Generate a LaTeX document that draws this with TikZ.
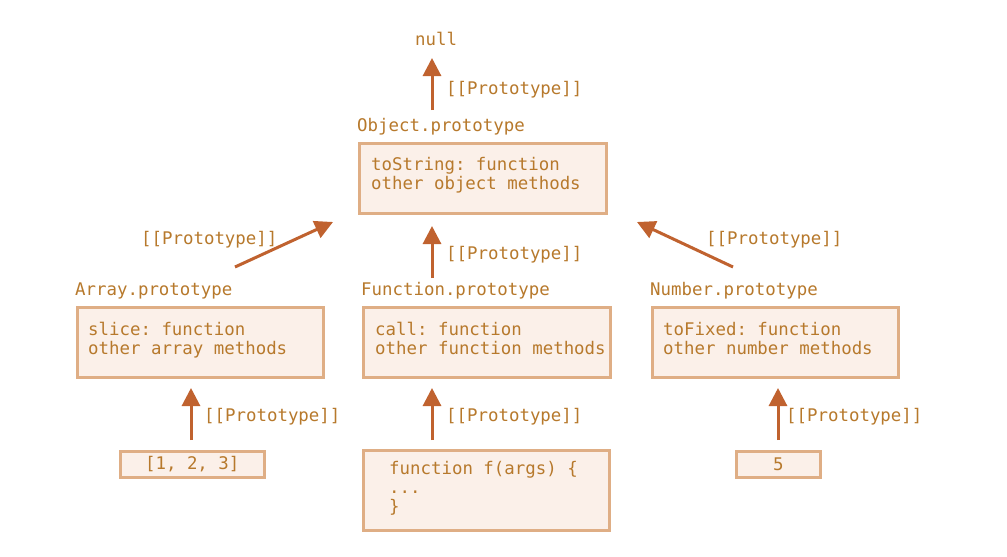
\documentclass[tikz,border=0pt]{standalone}
\usepackage{fontspec}
\setmonofont{DejaVu Sans Mono}
\usetikzlibrary{arrows.meta}
\definecolor{codetext}{HTML}{B7792C}
\definecolor{linkcol}{HTML}{C0622F}
\definecolor{cardfill}{HTML}{FBF0E9}
\definecolor{cardline}{HTML}{DFAE85}
\tikzset{
  every node/.style={font=\ttfamily\fontsize{17.4}{19}\selectfont, text=codetext, inner sep=0pt},
  card/.style={draw=cardline, fill=cardfill, line width=2.5pt, anchor=north west},
  % multi-line texts are placed by the baseline of their last line
  lbl/.style={anchor=base west, align=left},
  link/.style={draw=linkcol, line width=3pt, -{Triangle[length=18pt,width=18pt]}},
}
\begin{document}
\begin{tikzpicture}[x=1pt,y=-1pt]
  \path[use as bounding box, fill=white] (0,0) rectangle (1007,557);

  % top: null and Object.prototype
  \node[lbl] (null) at (415,45) {null};
  \node[lbl] (objlbl) at (357,131) {Object.prototype};
  \node[card, minimum width=247pt, minimum height=70pt] (objbox) at (358,142) {};
  \node[lbl] (objtxt) at (371,189) {toString: function\\other object methods};

  % middle row of prototypes
  \node[lbl] (arrlbl) at (75,295) {Array.prototype};
  \node[card, minimum width=246pt, minimum height=70pt] (arrbox) at (76,306) {};
  \node[lbl] (arrtxt) at (88,354) {slice: function\\other array methods};

  \node[lbl] (funlbl) at (361,295) {Function.prototype};
  \node[card, minimum width=247pt, minimum height=70pt] (funbox) at (362,306) {};
  \node[lbl] (funtxt) at (375,354) {call: function\\other function methods};

  \node[lbl] (numlbl) at (650,295) {Number.prototype};
  \node[card, minimum width=246pt, minimum height=70pt] (numbox) at (651,306) {};
  \node[lbl] (numtxt) at (663,354) {toFixed: function\\other number methods};

  % bottom row of values
  \node[card, minimum width=144pt, minimum height=26pt] (arrval) at (119,450) {};
  \node (arrvaltxt) at (arrval.center) {[1, 2, 3]};
  \node[card, minimum width=246pt, minimum height=80pt] (funval) at (362,449) {};
  \node[lbl] (funvaltxt) at (389,512) {function f(args) \{\\...\\\}};
  \node[card, minimum width=84pt, minimum height=26pt] (numval) at (735,450) {};
  \node (numvaltxt) at (numval.center) {5};

  % [[Prototype]] labels
  \node[lbl] (p0) at (446,94) {[[Prototype]]};
  \node[lbl] (p1) at (141,244) {[[Prototype]]};
  \node[lbl] (p2) at (446,259) {[[Prototype]]};
  \node[lbl] (p3) at (706,244) {[[Prototype]]};
  \node[lbl] (p4) at (204,421) {[[Prototype]]};
  \node[lbl] (p5) at (446,421) {[[Prototype]]};
  \node[lbl] (p6) at (786,421) {[[Prototype]]};

  % connector end points
  \coordinate (a0s) at (432,110); \coordinate (a0e) at (432,58);
  \coordinate (a1s) at (235,267); \coordinate (a1e) at (333,222);
  \coordinate (a2s) at (432,278); \coordinate (a2e) at (432,226);
  \coordinate (a3s) at (733,267); \coordinate (a3e) at (637,222);
  \coordinate (a4s) at (191,440); \coordinate (a4e) at (191,388);
  \coordinate (a5s) at (432,440); \coordinate (a5e) at (432,388);
  \coordinate (a6s) at (778,440); \coordinate (a6e) at (778,388);

  \draw[link] (a0s) -- (a0e);
  \draw[link] (a1s) -- (a1e);
  \draw[link] (a2s) -- (a2e);
  \draw[link] (a3s) -- (a3e);
  \draw[link] (a4s) -- (a4e);
  \draw[link] (a5s) -- (a5e);
  \draw[link] (a6s) -- (a6e);
\end{tikzpicture}
\end{document}
